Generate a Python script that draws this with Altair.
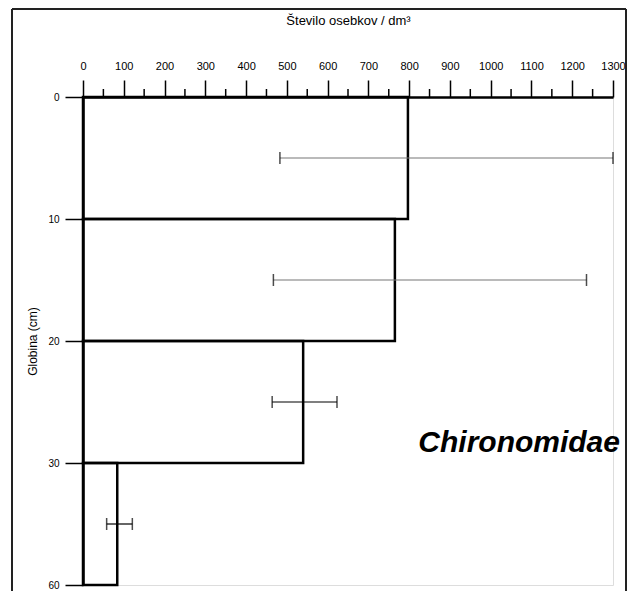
import altair as alt
import pandas as pd

# ---- data ----
depth_top = [0, 10, 20, 30]
depth_bottom = [10, 20, 30, 40]
depth_mid = [5, 15, 25, 35]
density_mean = [797, 765, 540, 84]
density_low = [483, 467, 464, 58]
density_high = [1300, 1235, 623, 121]
x_ticks = list(range(0, 1301, 100))
x_minor_ticks = list(range(50, 1300, 100))
y_tick_values = [0, 10, 20, 30, 40]
y_tick_labels = ["0", "10", "20", "30", "60"]
x_title = "Število osebkov / dm³"
y_title = "Globina (cm)"
taxon = "Chironomidae"

FONT = "Liberation Sans"

df = pd.DataFrame({
    "top": depth_top,
    "bottom": depth_bottom,
    "mid": depth_mid,
    "mean": density_mean,
    "low": density_low,
    "high": density_high,
})
minor_df = pd.DataFrame({"v": x_minor_ticks})

label_expr = ""
for v, lab in zip(y_tick_values, y_tick_labels):
    label_expr += f"datum.value == {v} ? '{lab}' : "
label_expr += "''"

xscale = alt.Scale(domain=[0, 1300], nice=False, zero=True)
yscale = alt.Scale(domain=[0, 40], reverse=True, nice=False)

bars = alt.Chart(df).transform_calculate(zero="0").mark_rect(
    fill="white", fillOpacity=0, stroke="black", strokeWidth=2.5
).encode(
    x=alt.X("mean:Q", scale=xscale, axis=alt.Axis(
        orient="top", values=x_ticks, format="d", tickSize=17, tickWidth=1.5,
        tickColor="black", domainColor="black", domainWidth=2.5, labelFontSize=11,
        labelFont=FONT, labelColor="black", labelPadding=9, title=x_title,
        titleFont=FONT, titleFontSize=13, titleFontWeight="normal",
        titleColor="black", titlePadding=33, grid=False, labelFlush=False)),
    x2="zero:Q",
    y=alt.Y("top:Q", scale=yscale, axis=alt.Axis(
        orient="left", values=y_tick_values, labelExpr=label_expr, tickSize=18,
        tickWidth=1.5, tickColor="black", domainColor="black", domainWidth=2.5,
        labelFontSize=10, labelFont=FONT, labelColor="black", labelPadding=6,
        title=y_title, titleFont=FONT, titleFontSize=12, titleFontWeight="normal",
        titleColor="black", titlePadding=8, grid=False, labelFlush=False)),
    y2="bottom:Q",
)

minor = alt.Chart(minor_df).mark_rule(color="black", strokeWidth=1.5).encode(
    x=alt.X("v:Q", scale=xscale),
    y=alt.value(-8),
    y2=alt.value(0),
)

err_color = alt.condition("datum.mid < 20", alt.value("#777777"), alt.value("black"))

err_line = alt.Chart(df).mark_rule(strokeWidth=1.2).encode(
    x=alt.X("low:Q", scale=xscale),
    x2="high:Q",
    y=alt.Y("mid:Q", scale=yscale),
    color=err_color,
)
cap_low = alt.Chart(df).mark_tick(orient="vertical", size=12, thickness=1.5, color="black").encode(
    x=alt.X("low:Q", scale=xscale),
    y=alt.Y("mid:Q", scale=yscale),
)
cap_high = alt.Chart(df).mark_tick(orient="vertical", size=12, thickness=1.5, color="black").encode(
    x=alt.X("high:Q", scale=xscale),
    y=alt.Y("mid:Q", scale=yscale),
)

label = alt.Chart(pd.DataFrame({"t": [taxon]})).mark_text(
    font=FONT, fontSize=30, fontStyle="italic", fontWeight="bold",
    align="right", baseline="middle", color="black", dx=7,
).encode(
    x=alt.datum(1300),
    y=alt.datum(28.4),
    text="t:N",
)

frame_df = pd.DataFrame({"a": [0]})
frame_left = alt.Chart(frame_df).mark_rule(color="#222222", strokeWidth=2).encode(
    x=alt.value(-71), x2=alt.value(-71), y=alt.value(-88), y2=alt.value(600))
frame_right = alt.Chart(frame_df).mark_rule(color="#222222", strokeWidth=2).encode(
    x=alt.value(543), x2=alt.value(543), y=alt.value(-88), y2=alt.value(600))
frame_top = alt.Chart(frame_df).mark_rule(color="#222222", strokeWidth=2).encode(
    x=alt.value(-71), x2=alt.value(543), y=alt.value(-88), y2=alt.value(-88))

chart = alt.layer(
    bars, minor, err_line, cap_low, cap_high, label, frame_left, frame_right, frame_top
).properties(
    width=530,
    height=488,
    autosize=alt.AutoSizeParams(type="none"),
    padding={"left": 75, "top": 89, "right": 15, "bottom": 6},
).configure_view(stroke=None).configure(background="white")

chart.save("out.html", embed_options={"renderer": "svg", "actions": False})
